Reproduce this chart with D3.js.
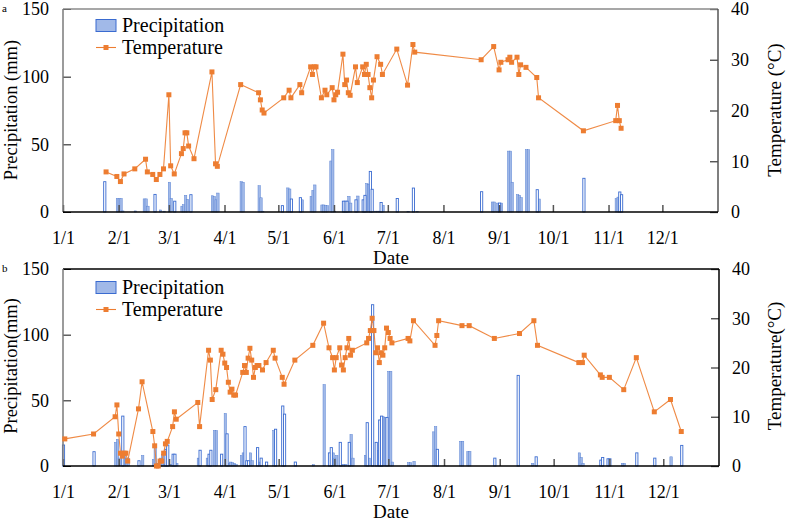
<!DOCTYPE html>
<html>
<head>
<meta charset="utf-8">
<script src="https://cdn.jsdelivr.net/npm/d3@7"></script>
<style>
  body { margin: 0; background: #fff; }
  svg text { font-family: "Liberation Serif", "Times New Roman", "DejaVu Serif", serif; }
</style>
</head>
<body>
<svg id="chart" width="788" height="523"></svg>
<script>
// month tick labels
var monthLabels = ["1/1","2/1","3/1","4/1","5/1","6/1","7/1","8/1","9/1","10/1","11/1","12/1"];
var precipTicks = [0, 50, 100, 150];
var tempTicks = [0, 10, 20, 30, 40];

// panel a
var tempA = [["1/25",7.9],["1/31",7.0],["2/2",6.0],["2/4",7.5],["2/10",8.5],["2/16",10.4],["2/17",7.9],["2/20",7.4],
  ["2/22",6.4],["2/24",7.4],["2/26",8.5],["3/1",23.1],["3/2",9.1],["3/4",7.5],["3/8",11.5],["3/9",12.5],["3/10",15.6],
  ["3/11",15.6],["3/12",13.0],["3/15",10.5],["3/25",27.6],["3/27",9.5],["3/28",9.0],["4/10",25.1],["4/20",23.5],
  ["4/21",22.1],["4/22",20.1],["4/23",19.5],["5/4",22.5],["5/7",24.0],["5/8",22.5],["5/13",25.1],["5/14",23.5],
  ["5/19",28.6],["5/20",27.1],["5/21",28.6],["5/22",28.6],["5/25",22.5],["5/27",24.0],["5/28",23.1],["5/31",24.5],
  ["6/1",22.1],["6/2",23.1],["6/3",23.6],["6/6",31.1],["6/7",25.1],["6/8",26.0],["6/9",23.5],["6/10",23.0],
  ["6/13",28.6],["6/14",25.5],["6/17",28.6],["6/18",27.1],["6/19",29.1],["6/20",27.1],["6/21",24.5],["6/22",22.5],
  ["6/23",26.0],["6/25",30.6],["6/27",29.1],["6/28",27.1],["7/6",32.1],["7/12",25.0],["7/15",33.0],["7/16",31.5],
  ["8/22",30.0],["8/29",32.6],["9/1",28.0],["9/2",29.5],["9/6",30.0],["9/7",30.5],["9/8",29.5],["9/11",30.5],
  ["9/12",27.1],["9/13",29.0],["9/16",28.5],["9/22",26.5],["9/23",22.5],["10/18",16.0],["11/5",18.0],["11/6",21.0],
  ["11/7",18.0],["11/8",16.5]];
var precipFilledA = [["1/31",10],["2/1",10],["2/2",10],["2/3",0.8],["2/10",0.8],["2/15",9.7],["2/16",9.7],["2/17",4.3],
  ["2/24",1.5],["2/26",0.6],["3/1",22],["3/2",10],["3/8",4.3],["3/9",5.4],["3/10",12.3],["3/11",9.4],["3/25",12],
  ["3/26",11.5],["3/27",9],["3/28",14],["4/10",22.4],["4/11",22],["4/20",19.4],["4/21",10.5],["4/22",0.6],["5/6",17.8],
  ["5/7",17],["5/14",9],["5/19",11.6],["5/20",16],["5/21",20],["5/25",5.2],["5/26",5.2],["5/27",4.7],["5/28",4.7],
  ["5/30",37.7],["5/31",46],["6/1",0.6],["6/9",11.6],["6/10",6.6],["6/14",11.8],["6/19",21],["6/20",20.3],["6/24",0.6],
  ["6/25",0.6],["6/26",0.6],["6/28",5],["7/12",0.5],["7/17",0.5],["8/28",7.4],["8/29",7.4],["8/31",6.6],["9/2",6.6],
  ["9/6",45],["9/7",45],["9/8",22],["9/11",12.8],["9/12",12.3],["9/13",10.6],["9/16",46],["9/17",46],["9/23",9.6],
  ["11/5",9.9],["11/6",11]];
var precipHollowA = [["1/24",22.4],["2/21",13],["3/4",8],["3/13",12.8],["5/3",4.7],["5/8",9.6],["5/13",10.6],["6/6",8],
  ["6/7",8],["6/8",8],["6/13",9],["6/17",9],["6/18",12.3],["6/21",30],["6/22",16.8],["6/27",7],["7/6",10],["7/15",17.7],
  ["8/22",15],["9/1",6.6],["9/22",16.5],["10/18",24.9],["11/7",14.8],["11/8",12.8]];

// panel b
var tempB = [["1/2",5.5],["1/18",6.5],["1/30",10.0],["1/31",12.4],["2/1",6.5],["2/2",2.6],["2/3",2.0],["2/4",2.6],
  ["2/5",2.6],["2/6",1.0],["2/12",11.6],["2/14",17.1],["2/20",7.0],["2/21",4.1],["2/22",0],["2/23",0],["2/24",1.0],
  ["2/25",1.0],["2/26",2.6],["2/27",4.5],["2/28",5.0],["3/3",8.0],["3/4",11.0],["3/5",9.5],["3/17",12.9],["3/18",8.0],
  ["3/23",23.5],["3/24",21.5],["3/25",13.5],["3/27",15.5],["3/30",23.5],["3/31",22.7],["4/1",20.9],["4/2",20.0],
  ["4/3",17.0],["4/4",15.0],["4/5",15.6],["4/6",14.4],["4/7",14.4],["4/11",19.0],["4/12",20.4],["4/13",19.0],
  ["4/14",21.9],["4/15",23.9],["4/16",21.5],["4/17",18.0],["4/18",20.0],["4/19",20.4],["4/20",20.4],["4/22",19.5],
  ["4/24",21.0],["4/28",23.5],["4/29",21.9],["5/3",18.0],["5/4",16.6],["5/10",21.5],["5/20",24.5],["5/26",29.0],
  ["5/29",24.0],["5/31",22.0],["6/1",19.5],["6/2",22.0],["6/4",24.0],["6/5",20.5],["6/6",19.5],["6/7",22.0],
  ["6/8",24.0],["6/9",25.9],["6/10",22.5],["6/11",23.5],["6/19",25.0],["6/20",25.9],["6/21",27.5],["6/22",30.0],
  ["6/23",27.5],["6/24",23.0],["6/25",24.0],["6/26",21.0],["6/27",23.0],["6/28",22.5],["6/29",24.0],["6/30",28.0],
  ["7/1",27.1],["7/2",25.9],["7/3",25.0],["7/12",25.9],["7/13",25.4],["7/15",29.5],["7/27",24.5],["7/28",26.5],
  ["7/29",29.5],["8/11",28.5],["8/15",28.5],["8/29",25.9],["9/12",26.9],["9/20",29.5],["9/22",24.5],["10/15",21.0],
  ["10/17",21.0],["10/18",22.5],["10/27",18.5],["10/28",18.0],["11/1",18.0],["11/9",15.5],["11/16",22.0],
  ["11/26",11.0],["12/5",13.5],["12/11",7.0]];
var precipFilledB = [["1/30",18],["1/31",20.3],["2/1",6],["2/4",8],["2/5",6],["2/6",6],["2/14",8],["2/20",5],["2/21",16],
  ["2/22",2],["2/23",2],["2/24",6],["2/25",9],["2/26",1],["3/2",1],["3/5",2],["3/17",6],["3/22",6],["3/26",27],
  ["3/27",27],["4/1",40],["4/3",2],["4/4",3],["4/5",2.5],["4/6",2],["4/7",1],["4/10",8],["4/11",10],["4/15",10],
  ["4/16",4],["4/20",3],["4/28",27],["5/20",1],["5/26",62],["5/31",10],["6/1",6],["6/2",8],["6/5",1],["6/6",1],
  ["6/7",1],["6/10",24],["6/11",6],["6/18",8],["6/20",6],["6/25",12],["6/26",35],["6/27",37.5],["6/28",37.5],
  ["6/29",37],["7/1",72],["7/2",72],["7/3",3],["7/12",2.5],["7/13",2.5],["7/15",3.5],["7/26",26],["7/27",30],
  ["8/10",18.8],["8/11",18.8],["8/14",11],["8/15",11],["9/19",2],["10/15",10],["10/16",6.5],["10/17",2],["11/8",2],
  ["11/9",2],["12/5",7]];
var precipHollowB = [["1/1",16],["1/18",10.9],["2/3",38],["2/12",4],["2/27",12.7],["2/28",16],["3/3",9],["3/4",9],
  ["3/18",12],["3/23",9],["3/24",12],["3/30",9],["4/2",24.5],["4/12",30],["4/13",4],["4/14",4],["4/19",14],["4/21",6],
  ["4/24",3],["4/29",28],["5/3",45.7],["5/4",39.5],["5/10",3],["5/29",10],["5/30",14],["6/4",18],["6/9",18],["6/19",33],
  ["6/22",122.8],["6/24",18],["6/26",35],["6/27",38],["6/30",37],["7/28",12.7],["8/29",6],["9/11",69],["9/21",7],
  ["10/27",4.5],["10/28",6.5],["10/31",5.5],["11/1",5.5],["11/16",10],["11/26",6],["12/11",15.7]];

function parseDay(s) {
  var p = s.split("/").map(Number);
  return new Date(2019, p[0] - 1, p[1]);
}

var svg = d3.select("#chart");
var orange = "#ED7D31";

function drawPanel(cfg) {
  var g = svg.append("g");
  var x = d3.scaleTime()
    .domain([new Date(2019, 0, 1), new Date(2020, 0, 1)])
    .range([cfg.left, cfg.right]);
  var yP = d3.scaleLinear().domain([0, 150]).range([cfg.bottom, cfg.top]);
  var yT = d3.scaleLinear().domain([0, 40]).range([cfg.bottom, cfg.top]);

  // precipitation bars
  g.append("g").selectAll("rect").data(cfg.filled).enter().append("rect")
    .attr("x", d => x(parseDay(d[0])) - 0.6)
    .attr("width", 2.4)
    .attr("y", d => yP(d[1]))
    .attr("height", d => cfg.bottom - yP(d[1]))
    .attr("fill", "#a1b9e8")
    .attr("stroke", "#5b83d3")
    .attr("stroke-width", 0.5);
  g.append("g").selectAll("rect").data(cfg.hollow).enter().append("rect")
    .attr("x", d => x(parseDay(d[0])) - 0.6)
    .attr("width", 2.2)
    .attr("y", d => yP(d[1]))
    .attr("height", d => cfg.bottom - yP(d[1]))
    .attr("fill", "#fff")
    .attr("stroke", "#3a6bd0")
    .attr("stroke-width", 0.9);

  // x axis with inward ticks
  var months = monthLabels.map((m, i) => new Date(2019, i, 1));
  var xAxis = d3.axisBottom(x).tickValues(months)
    .tickFormat((d, i) => monthLabels[i])
    .tickSizeInner(-7).tickSizeOuter(0).tickPadding(19);
  var xg = g.append("g").attr("transform", "translate(0," + cfg.bottom + ")").call(xAxis);
  xg.attr("font-family", null).attr("font-size", null);
  xg.select(".domain").remove();
  xg.selectAll(".tick line").attr("stroke", "#555").attr("stroke-width", 1.5);
  xg.selectAll("text").style("font-size", "18px").attr("fill", "#000");

  var yAxisL = d3.axisLeft(yP).tickValues(precipTicks).tickSizeInner(-8).tickSizeOuter(0).tickPadding(14);
  var ylg = g.append("g").attr("transform", "translate(" + cfg.left + ",0)").call(yAxisL);
  ylg.attr("font-family", null).attr("font-size", null);
  ylg.select(".domain").remove();
  ylg.selectAll(".tick line").attr("stroke", "#111");
  ylg.selectAll("text").style("font-size", "18px").attr("fill", "#000");

  var yAxisR = d3.axisRight(yT).tickValues(tempTicks).tickSizeInner(-8).tickSizeOuter(0).tickPadding(13);
  var yrg = g.append("g").attr("transform", "translate(" + cfg.right + ",0)").call(yAxisR);
  yrg.attr("font-family", null).attr("font-size", null);
  yrg.select(".domain").remove();
  yrg.selectAll(".tick line").attr("stroke", "#444").attr("stroke-width", 1.3);
  yrg.selectAll("text").style("font-size", "18px").attr("fill", "#000");

  // frame
  g.append("line").attr("x1", cfg.left).attr("x2", cfg.right).attr("y1", cfg.top).attr("y2", cfg.top)
    .attr("stroke", cfg.topColor).attr("stroke-width", 1.5);
  g.append("line").attr("x1", cfg.right).attr("x2", cfg.right).attr("y1", cfg.top).attr("y2", cfg.bottom)
    .attr("stroke", cfg.rightColor).attr("stroke-width", 1.5);
  g.append("line").attr("x1", cfg.left).attr("x2", cfg.left).attr("y1", cfg.top).attr("y2", cfg.bottom)
    .attr("stroke", "#7a7a7a").attr("stroke-width", 1.5);
  g.append("line").attr("x1", cfg.left).attr("x2", cfg.right).attr("y1", cfg.bottom).attr("y2", cfg.bottom)
    .attr("stroke", "#000").attr("stroke-width", 1.5);

  // temperature line
  var line = d3.line().x(d => x(parseDay(d[0]))).y(d => yT(d[1]));
  g.append("path").datum(cfg.temp).attr("d", line)
    .attr("fill", "none").attr("stroke", orange).attr("stroke-width", 1.1).attr("opacity", 0.9);
  g.append("g").selectAll("rect").data(cfg.temp).enter().append("rect")
    .attr("x", d => x(parseDay(d[0])) - 2.5)
    .attr("y", d => yT(d[1]) - 2.5)
    .attr("width", 5).attr("height", 5)
    .attr("fill", orange);

  // axis titles
  g.append("text")
    .attr("transform", "translate(17," + cfg.midY + ") rotate(-90)")
    .attr("text-anchor", "middle").style("font-size", "18.5px")
    .text(cfg.yTitle);
  g.append("text")
    .attr("transform", "translate(781," + cfg.midY + ") rotate(-90)")
    .attr("text-anchor", "middle").style("font-size", "19px")
    .text(cfg.tTitle);
  g.append("text").attr("x", 391).attr("y", cfg.dateY)
    .attr("text-anchor", "middle").style("font-size", "19px").text("Date");
  g.append("text").attr("x", 2).attr("y", cfg.top + 3)
    .style("font-size", "11px").text(cfg.letter);

  // legend
  var ly = cfg.legendY;
  g.append("rect").attr("x", 96).attr("y", ly).attr("width", 20).attr("height", 12)
    .attr("fill", "#a1b9e8").attr("stroke", "#3a6bd0").attr("stroke-width", 1);
  g.append("text").attr("x", 122).attr("y", ly + 12.5).style("font-size", "20px").text("Precipitation");
  g.append("line").attr("x1", 96).attr("x2", 116).attr("y1", ly + 28).attr("y2", ly + 28)
    .attr("stroke", orange).attr("stroke-width", 1.1);
  g.append("rect").attr("x", 103.5).attr("y", ly + 25.5).attr("width", 5).attr("height", 5).attr("fill", orange);
  g.append("text").attr("x", 122).attr("y", ly + 34.5).style("font-size", "20px").text("Temperature");
}

drawPanel({
  left: 63, right: 718, top: 9, bottom: 212, midY: 110, dateY: 264, legendY: 19.5,
  temp: tempA, filled: precipFilledA, hollow: precipHollowA, letter: "a",
  yTitle: "Precipitation (mm)", tTitle: "Temperature (\u00b0C)",
  topColor: "#8a8a8a", rightColor: "#555"
});
drawPanel({
  left: 63, right: 719, top: 269, bottom: 466, midY: 366, dateY: 518, legendY: 281.5,
  temp: tempB, filled: precipFilledB, hollow: precipHollowB, letter: "b",
  yTitle: "Precipitation(mm)", tTitle: "Temperature(\u00b0C)",
  topColor: "#000", rightColor: "#000"
});
</script>
</body>
</html>
